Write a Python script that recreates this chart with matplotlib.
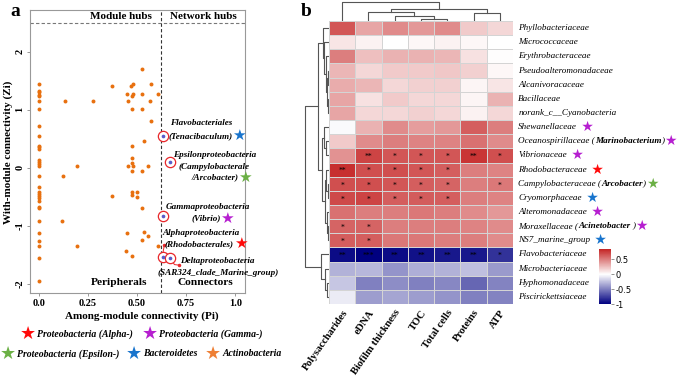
import numpy as np
import matplotlib
matplotlib.use("Agg")
import matplotlib.pyplot as plt
from matplotlib.colors import LinearSegmentedColormap, Normalize

plt.rcParams['font.family'] = ['Liberation Serif', 'DejaVu Sans']

# ---------------- data: panel a (Zi-Pi plot) ----------------
pi_zero = [1.45, 1.33, 1.30, 1.26, 1.23, 1.15, 1.02, 0.72, 0.55, 0.38, 0.36, 0.33,
           0.13, 0.10, 0.07, 0.03, -0.15, -0.33, -0.41, -0.45, -0.48, -0.52, -0.57,
           -0.67, -0.70, -0.91, -1.12, -1.26, -1.35, -1.56, -1.96]
other_pi = [0.13, 0.277, 0.374, 0.195, 0.124, 0.524, 0.468, 0.48, 0.571, 0.45, 0.48,
            0.474, 0.524, 0.609, 0.456, 0.566, 0.473, 0.524, 0.571, 0.536, 0.474,
            0.474, 0.474, 0.456, 0.48, 0.553, 0.474, 0.524, 0.374, 0.473, 0.473,
            0.497, 0.497, 0.524, 0.117, 0.45, 0.536, 0.555, 0.524, 0.195, 0.442,
            0.474, 0.609]
other_zi = [1.15, 1.15, 1.41, 0.03, -0.15, 1.70, 1.41, 1.45, 1.45, 1.28, 1.28,
            1.24, 1.28, 1.28, 1.15, 1.15, 1.02, 1.02, 0.80, 0.46, 0.38,
            0.16, 0.09, 0.03, 0.03, 0.03, -0.05, -0.05, -0.48, -0.42, -0.47,
            -0.42, -0.51, -0.70, -0.92, -1.12, -1.10, -1.18, -1.25, -1.35, -1.44,
            -1.53, -1.35]
hub_pi = [0.633, 0.668, 0.634, 0.634, 0.668]
hub_zi = [0.55, 0.10, -0.83, -1.54, -1.55]

# ---------------- data: panel b (correlation heatmap) ----------------
cols = ['Polysaccharides', 'eDNA', 'Biofilm thickness', 'TOC', 'Total cells', 'Proteins', 'ATP']
rows = ['Phyllobacteriaceae', 'Micrococcaceae', 'Erythrobacteraceae', 'Pseudoalteromonadaceae',
        'Alcanivoracaceae', 'Bacillaceae', 'norank_c__Cyanobacteria', 'Shewanellaceae',
        'Oceanospirillaceae', 'Vibrionaceae', 'Rhodobacteraceae', 'Campylobacteraceae',
        'Cryomorphaceae', 'Alteromonadaceae', 'Moraxellaceae', 'NS7_marine_group',
        'Flavobacteriaceae', 'Microbacteriaceae', 'Hyphomonadaceae', 'Piscirickettsiaceae']
row_genus = {8: 'Marinobacterium', 11: 'Arcobacter', 14: 'Acinetobacter '}
row_star = {7: 'gamma', 8: 'gamma', 9: 'gamma', 10: 'alpha', 11: 'epsilon', 12: 'bact',
            13: 'gamma', 14: 'gamma', 15: 'bact'}
corr = [
    [0.65, 0.35, 0.45, 0.40, 0.45, 0.20, 0.15],
    [0.10, 0.05, 0.00, 0.03, 0.05, 0.03, 0.00],
    [0.50, 0.25, 0.30, 0.30, 0.28, 0.12, 0.01],
    [0.28, 0.15, 0.20, 0.20, 0.22, 0.18, 0.03],
    [0.32, 0.28, 0.15, 0.18, 0.18, 0.04, 0.10],
    [0.35, 0.12, 0.20, 0.15, 0.15, 0.04, 0.30],
    [0.35, 0.15, 0.15, 0.18, 0.15, 0.05, 0.15],
    [-0.02, 0.30, 0.45, 0.38, 0.40, 0.62, 0.50],
    [0.20, 0.45, 0.50, 0.48, 0.48, 0.55, 0.45],
    [0.42, 0.72, 0.65, 0.65, 0.65, 0.78, 0.68],
    [0.80, 0.68, 0.68, 0.65, 0.62, 0.50, 0.48],
    [0.68, 0.68, 0.65, 0.62, 0.60, 0.50, 0.52],
    [0.70, 0.72, 0.62, 0.63, 0.62, 0.50, 0.48],
    [0.55, 0.50, 0.50, 0.52, 0.50, 0.45, 0.40],
    [0.60, 0.60, 0.50, 0.50, 0.50, 0.48, 0.45],
    [0.62, 0.62, 0.52, 0.52, 0.50, 0.50, 0.45],
    [-0.95, -1.00, -0.95, -0.93, -0.90, -0.90, -0.80],
    [-0.30, -0.28, -0.42, -0.32, -0.30, -0.25, -0.40],
    [-0.22, -0.50, -0.45, -0.50, -0.47, -0.60, -0.48],
    [-0.08, -0.38, -0.35, -0.38, -0.42, -0.50, -0.48],
]
sig = {9: ['', '**', '*', '*', '*', '**', '*'],
       10: ['**', '*', '*', '*', '*', '', ''],
       11: ['*', '*', '*', '*', '*', '', '*'],
       12: ['*', '*', '*', '*', '*', '', ''],
       14: ['*', '*', '', '', '', '', ''],
       15: ['*', '*', '', '', '', '', ''],
       16: ['**', '***', '**', '**', '**', '**', '*']}

# dendrogram merges (a, b, height in px); new node ids follow leaves
col_merges = [(3, 4, 2.0), (2, 7, 5.3), (1, 8, 9.0), (5, 6, 7.7), (9, 10, 11.7), (0, 11, 19.3)]
row_merges = [(3, 4, 1.5), (5, 6, 1.5), (20, 21, 2.5), (2, 22, 3.5), (1, 23, 5.0), (0, 24, 6.5),
              (8, 9, 3.0), (7, 26, 5.0), (11, 12, 1.5), (10, 28, 3.0), (14, 15, 1.5),
              (13, 30, 2.5), (29, 31, 4.0), (27, 32, 7.0), (25, 33, 11.0),
              (18, 19, 2.0), (17, 35, 4.5), (16, 36, 8.5), (34, 37, 24.0)]

phyla = {'alpha': ('Proteobacteria (Alpha-)', '#FF0A0A'),
         'gamma': ('Proteobacteria (Gamma-)', '#B61FD0'),
         'epsilon': ('Proteobacteria (Epsilon-)', '#6BB045'),
         'bact': ('Bacteroidetes', '#1874CD'),
         'actino': ('Actinobacteria', '#EE7F35')}

W, H = 685, 377
fig = plt.figure(figsize=(W / 100, H / 100), dpi=100)


def box(x0, y0, x1, y1):
    return [x0 / W, 1 - y1 / H, (x1 - x0) / W, (y1 - y0) / H]


def chain(ax, x, y, parts, size, star=None, star_size=11, transform=None, gap=''):
    kw0 = dict(parts[0][1])
    t = ax.text(x, y, parts[0][0], fontsize=size, va='center', ha='left',
                transform=transform if transform is not None else ax.transData, **kw0)
    for s, kw in parts[1:]:
        t = ax.annotate(s, xy=(1, 0.5), xycoords=t, va='center', ha='left', fontsize=size, **kw)
    if star:
        ax.annotate(gap + '\u2605', xy=(1, 0.5), xycoords=t, va='center', ha='left',
                    fontsize=star_size, color=phyla[star][1], family='DejaVu Sans')
    return t


BI = dict(fontweight='bold', fontstyle='italic')
IT = dict(fontstyle='italic')

# ---------------- panel a ----------------
axa = fig.add_axes(box(30, 10, 245, 293))
axa.scatter([0.0] * len(pi_zero), pi_zero, s=8, color='#E8700F', lw=0, zorder=3)
axa.scatter(other_pi, other_zi, s=8, color='#E8700F', lw=0, zorder=3)
axa.scatter(hub_pi, hub_zi, s=55, facecolor='white', edgecolor='#E8262A', lw=0.9, zorder=4)
axa.scatter(hub_pi, hub_zi, s=7, color='#5B5BC8', lw=0, zorder=5)
axa.axhline(2.5, color='#777777', ls=(0, (3, 2)), lw=0.8)
axa.axvline(0.62, color='#333333', ls=(0, (3, 2)), lw=0.8)
# leader lines
axa.plot([0.631, 0.639], [-1.48, -1.33], color='#E8262A', lw=0.7)
axa.plot([0.639], [-1.33], 'o', ms=1.5, color='#E8262A')
axa.plot([0.677, 0.69, 0.716], [-1.59, -1.67, -1.68], color='#E8262A', lw=0.7)
axa.plot([0.716], [-1.68], 'o', ms=1.5, color='#E8262A')
axa.set_xlim(-0.046, 1.05)
axa.set_ylim(-2.16, 2.72)
axa.set_xticks([0, 0.25, 0.5, 0.75, 1.0])
axa.set_xticklabels(['0.0', '0.25', '0.50', '0.75', '1.0'], fontsize=7.5, fontweight='bold')
axa.set_yticks([-2, -1, 0, 1, 2])
axa.set_yticklabels(['-2', '-1', '0', '1', '2'], fontsize=7.5, fontweight='bold',
                    rotation=90, va='center')
axa.tick_params(length=2, width=0.6, color='#888888', pad=2)
for sp in axa.spines.values():
    sp.set_color('#999999')
    sp.set_linewidth(0.8)

axa.text(0.42, 2.61, 'Module hubs', ha='center', va='center', fontsize=8, fontweight='bold')
axa.text(0.84, 2.61, 'Network hubs', ha='center', va='center', fontsize=8, fontweight='bold')
axa.text(0.41, -1.98, 'Peripherals', ha='center', va='center', fontsize=8.2, fontweight='bold')
axa.text(0.85, -1.98, 'Connectors', ha='center', va='center', fontsize=8.2, fontweight='bold')

ls = 6.6
chain(axa, 0.668, 0.78, [('Flavobacteriales', BI)], ls)
chain(axa, 0.658, 0.55, [('(Tenacibaculum)', BI)], ls, star='bact')
chain(axa, 0.684, 0.22, [('Epsilonproteobacteria', BI)], ls)
chain(axa, 0.71, 0.02, [('(Campylobacterale', BI)], ls)
chain(axa, 0.775, -0.16, [('/Arcobacter)', BI)], ls, star='epsilon')
chain(axa, 0.648, -0.68, [('Gammaproteobacteria', BI)], ls)
chain(axa, 0.775, -0.87, [('(Vibrio)', BI)], ls, star='gamma')
chain(axa, 0.628, -1.13, [('Alphaproteobacteria', BI)], ls)
chain(axa, 0.642, -1.31, [('(Rhodobacterales)', BI)], ls, star='alpha')
chain(axa, 0.72, -1.61, [('Deltaproteobacteria', BI)], ls)
chain(axa, 0.602, -1.81, [('(SAR324_clade_Marine_group)', BI)], ls)

fig.text(142 / W, 1 - 316 / H, 'Among-module connectivity (Pi)', ha='center', va='center',
         fontsize=8, fontweight='bold')
fig.text(8 / W, 1 - 152 / H, 'With-module connectivity (Zi)', ha='center', va='center',
         fontsize=8, fontweight='bold', rotation=90)

# legend under panel a
leg_pos = [('alpha', 28, 334), ('gamma', 150, 334), ('epsilon', 8, 354),
           ('bact', 134, 354), ('actino', 213, 354)]
for key, x, y in leg_pos:
    name, c = phyla[key]
    fig.text(x / W, 1 - y / H, '\u2605', color=c, fontsize=13, ha='center', va='center',
             family='DejaVu Sans')
    fig.text((x + 9) / W, 1 - y / H, name, fontsize=7.0, ha='left', va='center', **BI)

fig.text(15 / W, 1 - 11 / H, 'a', fontsize=14, fontweight='bold', ha='center', va='center')
fig.text(306 / W, 1 - 11 / H, 'b', fontsize=14, fontweight='bold', ha='center', va='center')

# ---------------- panel b ----------------
vmin, vmax = -1.0, 0.85
zpos = (0 - vmin) / (vmax - vmin)
cmap = LinearSegmentedColormap.from_list('nwr', [(0, '#000080'), (zpos, '#FFFFFF'),
                                                 (1, '#C42424')])
norm = Normalize(vmin, vmax)
vals = np.array(corr)

axh = fig.add_axes(box(329, 21, 513, 304))
mesh = axh.pcolormesh(vals, cmap=cmap, norm=norm, edgecolors='#d4d4d4', linewidth=0.7)
axh.set_xlim(0, len(cols))
axh.set_ylim(len(rows), 0)
for sp in axh.spines.values():
    sp.set_visible(False)
axh.set_yticks([])
axh.set_xticks(np.arange(len(cols)) + 0.5)
axh.set_xticklabels(cols, rotation=55, ha='right', rotation_mode='anchor',
                    fontsize=7.6, fontweight='bold')
axh.tick_params(axis='x', length=0, pad=3)
for i, marks in sig.items():
    for j, s in enumerate(marks):
        if s:
            axh.text(j + 0.5, i + 0.62, s, ha='center', va='center', fontsize=5.5)

for i, name in enumerate(rows):
    parts = [(name, IT)]
    if i in row_genus:
        parts = [(name + ' (', IT), (row_genus[i], BI), (')', IT)]
    gap = ' ' if (i in row_star and i not in row_genus) else ''
    chain(axh, len(cols) + 0.2, i + 0.5, parts, 6.6, star=row_star.get(i), star_size=10,
          gap=gap)


def dendro(ax, merges, n, orient):
    pos = {k: k + 0.5 for k in range(n)}
    hgt = {k: 0.0 for k in range(n)}
    for m, (a, b, h) in enumerate(merges):
        pa, pb = pos[a], pos[b]
        xs = [hgt[a], h, h, hgt[b]]
        ys = [pa, pa, pb, pb]
        if orient == 'top':
            ax.plot(ys, xs, color='#555555', lw=0.8)
        else:
            ax.plot(xs, ys, color='#555555', lw=0.8)
        pos[n + m] = (pa + pb) / 2
        hgt[n + m] = h


axc = fig.add_axes(box(329, 0, 513, 21))
dendro(axc, col_merges, len(cols), 'top')
axc.set_xlim(0, len(cols))
axc.set_ylim(0, 21)
axc.axis('off')

axr = fig.add_axes(box(304, 21, 329, 304))
dendro(axr, row_merges, len(rows), 'left')
axr.set_xlim(25, 0)
axr.set_ylim(len(rows), 0)
axr.axis('off')

cax = fig.add_axes(box(599, 249, 611, 304))
cb = fig.colorbar(mesh, cax=cax)
cb.outline.set_visible(False)
cb.set_ticks([-1, -0.5, 0, 0.5])
cb.set_ticklabels(['-1', '-0.5', '0', '0.5'])
cax.tick_params(labelsize=6, length=2, width=0.5, pad=1, color='#666666')
for lab in cax.get_yticklabels():
    lab.set_family('DejaVu Sans')

fig.savefig('out.png', dpi=100)
